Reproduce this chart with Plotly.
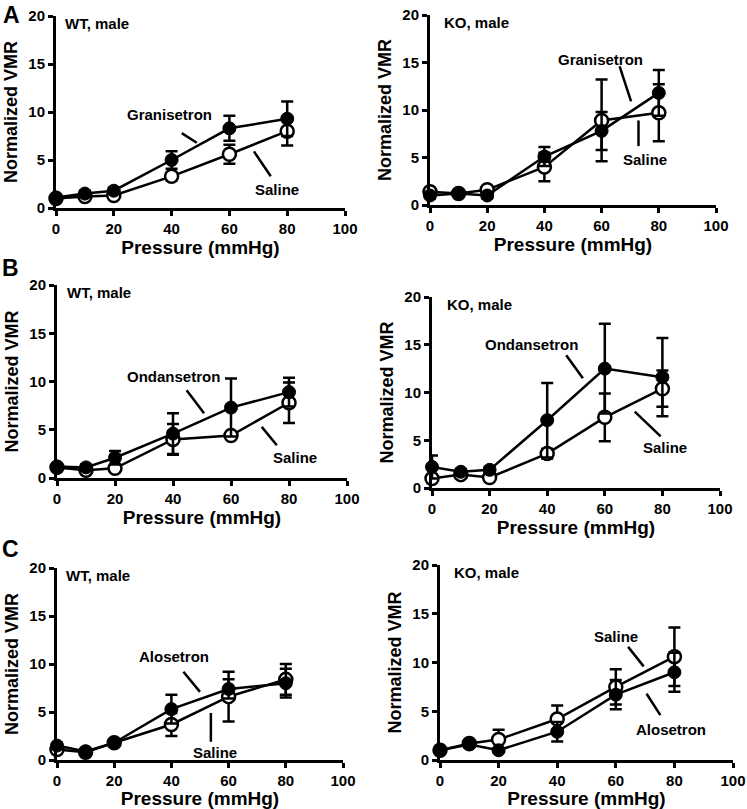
import plotly.graph_objects as go

pressure = [0, 10, 20, 40, 60, 80]

# Panel A: Granisetron
a_wt_drug = [1.1, 1.5, 1.8, 5.0, 8.3, 9.3]
a_wt_drug_err = [0.3, 0.3, 0.3, 0.9, 1.3, 1.8]
a_wt_sal = [1.0, 1.2, 1.3, 3.3, 5.6, 8.0]
a_wt_sal_err = [0.2, 0.2, 0.2, 0.4, 1.0, 1.5]
a_ko_drug = [1.0, 1.2, 1.0, 5.1, 7.8, 11.8]
a_ko_drug_err = [0.3, 0.2, 0.3, 1.0, 2.0, 2.4]
a_ko_sal = [1.4, 1.2, 1.6, 4.0, 8.9, 9.7]
a_ko_sal_err = [0.3, 0.2, 0.3, 1.5, 4.3, 3.0]

# Panel B: Ondansetron
b_wt_drug = [1.2, 1.1, 2.1, 4.6, 7.3, 8.9]
b_wt_drug_err = [0.3, 0.3, 0.7, 2.1, 3.0, 1.5]
b_wt_sal = [1.1, 0.8, 1.0, 4.0, 4.4, 7.8]
b_wt_sal_err = [0.2, 0.2, 0.2, 1.6, 0.3, 2.1]
b_ko_drug = [2.2, 1.7, 1.9, 7.1, 12.5, 11.6]
b_ko_drug_err = [1.2, 0.3, 0.3, 3.9, 4.7, 4.1]
b_ko_sal = [1.0, 1.4, 1.1, 3.6, 7.4, 10.4]
b_ko_sal_err = [0.3, 0.3, 0.3, 0.5, 2.5, 1.9]

# Panel C: Alosetron
c_wt_drug = [1.5, 0.9, 1.8, 5.3, 7.4, 8.0]
c_wt_drug_err = [0.3, 0.2, 0.3, 1.5, 1.0, 1.5]
c_wt_sal = [1.1, 0.8, 1.8, 3.7, 6.6, 8.4]
c_wt_sal_err = [0.2, 0.2, 0.2, 1.2, 2.6, 1.6]
c_ko_drug = [1.0, 1.6, 1.0, 2.9, 6.7, 9.0]
c_ko_drug_err = [0.2, 0.3, 0.2, 1.0, 1.5, 2.0]
c_ko_sal = [1.0, 1.7, 2.1, 4.2, 7.5, 10.6]
c_ko_sal_err = [0.2, 0.3, 1.0, 1.4, 1.8, 3.0]

x_ticks = [0, 20, 40, 60, 80, 100]
y_ticks = [0, 5, 10, 15, 20]
x_title = "Pressure (mmHg)"
y_title = "Normalized VMR"

W, H = 747, 809
FONT = "Liberation Sans"

# panel pixel boxes: (x0, x1, ytop, ybottom)
panels = [
    dict(box=(56, 345, 16, 208), group="WT, male", drug="Granisetron",
         d=a_wt_drug, de=a_wt_drug_err, s=a_wt_sal, se=a_wt_sal_err,
         glab=(39.4, 9.7), gline=(43.5, 7.8, 48.7, 6.8),
         slab=(76.6, 1.95), sline=(68.5, 5.9, 74.3, 3.3), gx=2.5, xs=4),
    dict(box=(430, 716, 15, 205), group="KO, male", drug="Granisetron",
         d=a_ko_drug, de=a_ko_drug_err, s=a_ko_sal, se=a_ko_sal_err,
         glab=(59.7, 15.3), gline=(66.3, 14.6, 70.3, 10.9),
         slab=(75.0, 4.8), sline=(72.9, 8.9, 72.9, 6.2), gx=4.1, xs=4),
    dict(box=(57, 347, 285, 478), group="WT, male", drug="Ondansetron",
         d=b_wt_drug, de=b_wt_drug_err, s=b_wt_sal, se=b_wt_sal_err,
         glab=(40.1, 10.5), gline=(44.7, 9.1, 50.7, 6.7),
         slab=(82.1, 2.1), sline=(70.6, 5.3, 75.8, 3.4), gx=2.6, xs=4),
    dict(box=(432, 720, 297, 488), group="KO, male", drug="Ondansetron",
         d=b_ko_drug, de=b_ko_drug_err, s=b_ko_sal, se=b_ko_sal_err,
         glab=(34.5, 15.0), gline=(46.6, 13.9, 52.4, 11.5),
         slab=(80.9, 4.2), sline=(70.4, 8.0, 79.4, 5.4), gx=4.6, xs=4),
    dict(box=(57, 343, 568, 760), group="WT, male", drug="Alosetron",
         d=c_wt_drug, de=c_wt_drug_err, s=c_wt_sal, se=c_wt_sal_err,
         glab=(40.9, 10.8), gline=(44.2, 9.2, 50.0, 7.1),
         slab=(55.2, 0.8), sline=(53.8, 4.9, 53.8, 1.9), gx=2.3, xs=1),
    dict(box=(440, 733, 565, 760), group="KO, male", drug="Alosetron",
         d=c_ko_drug, de=c_ko_drug_err, s=c_ko_sal, se=c_ko_sal_err,
         glab=(79.0, 3.1), gline=(70.5, 6.8, 75.2, 4.6),
         slab=(60.2, 12.7), sline=(64.2, 11.6, 69.5, 9.6), gx=4.0, xs=1),
]

fig = go.Figure()
annotations = []
shapes = []
LW = 2.5

for i, p in enumerate(panels, start=1):
    x0, x1, yt, yb = p["box"]
    xa = "x" if i == 1 else f"x{i}"
    ya = "y" if i == 1 else f"y{i}"
    xkey = "xaxis" if i == 1 else f"xaxis{i}"
    ykey = "yaxis" if i == 1 else f"yaxis{i}"
    axis_common = dict(showline=True, linewidth=3, linecolor="black",
                       ticks="outside", ticklen=5, tickwidth=3, tickcolor="black",
                       showgrid=False, zeroline=False, fixedrange=True,
                       automargin=False, tickmode="array",
                       tickfont=dict(family=FONT, size=15, color="black"))
    fig.layout[xkey] = dict(axis_common, domain=[x0 / W, x1 / W], range=[0, 100],
                            tickvals=x_ticks, ticktext=[f"<b>{t}</b>" for t in x_ticks],
                            anchor=ya,
                            title=dict(text=f"<b>{x_title}</b>", standoff=p["xs"],
                                       font=dict(family=FONT, size=19, color="black")))
    fig.layout[ykey] = dict(axis_common, domain=[1 - yb / H, 1 - yt / H], range=[0, 20],
                            tickvals=y_ticks, ticktext=[f"<b>{t}</b>" for t in y_ticks],
                            anchor=xa,
                            title=dict(text=f"<b>{y_title}</b>", standoff=7,
                                       font=dict(family=FONT, size=18, color="black")))
    # saline (open circles)
    fig.add_trace(go.Scatter(
        x=pressure, y=p["s"], xaxis=xa, yaxis=ya, mode="lines+markers",
        line=dict(color="black", width=LW), cliponaxis=False,
        marker=dict(symbol="circle", size=13, color="white",
                    line=dict(color="black", width=2.5)),
        error_y=dict(type="data", array=p["se"], visible=True, color="black",
                     thickness=2.5, width=6),
        showlegend=False))
    # drug (filled circles)
    fig.add_trace(go.Scatter(
        x=pressure, y=p["d"], xaxis=xa, yaxis=ya, mode="lines+markers",
        line=dict(color="black", width=LW), cliponaxis=False,
        marker=dict(symbol="circle", size=13, color="black",
                    line=dict(color="black", width=1)),
        error_y=dict(type="data", array=p["de"], visible=True, color="black",
                     thickness=2.5, width=6),
        showlegend=False))
    lab_font = dict(family=FONT, size=15, color="black")
    annotations.append(dict(x=p["gx"], y=19.2, xref=xa, yref=ya, text=f"<b>{p['group']}</b>",
                            showarrow=False, xanchor="left", yanchor="middle", font=lab_font))
    annotations.append(dict(x=p["glab"][0], y=p["glab"][1], xref=xa, yref=ya,
                            text=f"<b>{p['drug']}</b>", showarrow=False,
                            xanchor="center", yanchor="middle", font=lab_font))
    annotations.append(dict(x=p["slab"][0], y=p["slab"][1], xref=xa, yref=ya,
                            text="<b>Saline</b>", showarrow=False,
                            xanchor="center", yanchor="middle", font=lab_font))
    for ln in (p["gline"], p["sline"]):
        shapes.append(dict(type="line", xref=xa, yref=ya, x0=ln[0], y0=ln[1],
                           x1=ln[2], y1=ln[3], line=dict(color="black", width=2.5)))

for letter, (px, py) in zip(["A", "B", "C"], [(12, 15), (10, 268), (10, 549)]):
    annotations.append(dict(x=px / W, y=1 - py / H, xref="paper", yref="paper",
                            text=f"<b>{letter}</b>", showarrow=False,
                            xanchor="center", yanchor="middle",
                            font=dict(family=FONT, size=23, color="black")))

fig.update_layout(template="none", width=W, height=H, margin=dict(l=0, r=0, t=0, b=0),
                  plot_bgcolor="white", paper_bgcolor="white",
                  annotations=annotations, shapes=shapes, showlegend=False)

fig.write_html("out.html", config={"displayModeBar": False},
               post_script="document.body.style.margin='0';document.body.style.padding='0';")
